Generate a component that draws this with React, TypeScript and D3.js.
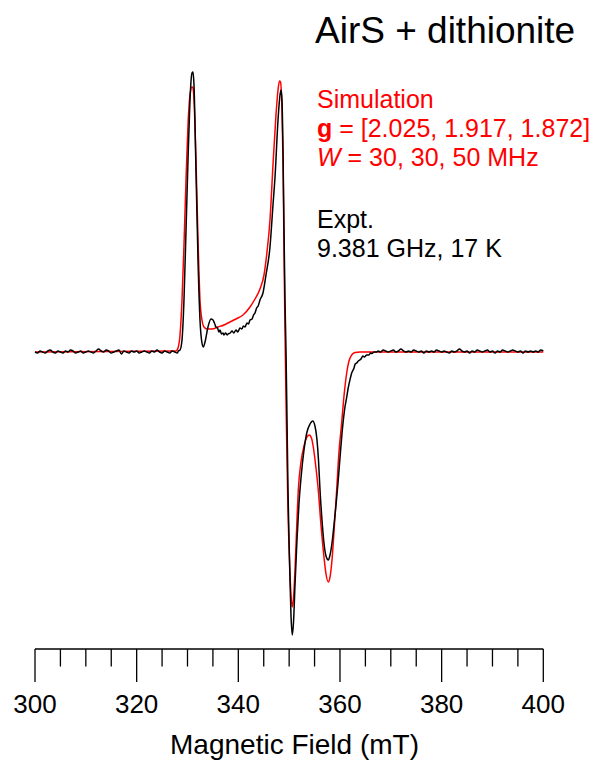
import React from "react";
import * as d3 from "d3";

// Magnetic field (mT) and EPR signal (arbitrary units)
const exptField: number[] = [
  300, 300.5, 301, 301.5, 302, 302.5, 303, 303.5, 304, 304.5, 305, 305.5, 306, 306.5, 307, 307.5,
  308, 308.5, 309, 309.5, 310, 310.5, 311, 311.5, 312, 312.5, 313, 313.5, 314, 314.5, 315, 315.5,
  316, 316.5, 317, 317.5, 318, 318.5, 319, 319.5, 320, 320.5, 321, 321.5, 322, 322.5, 323, 323.5,
  324, 324.5, 325, 325.5, 326, 326.5, 327, 327.5, 328, 328.2,
  328.53, 328.92, 329.31, 329.71, 330.1, 330.49, 330.89, 331.08, 331.28, 331.67, 332.07, 332.46,
  332.85, 333.11, 333.45, 334.03, 334.62, 335.02, 335.3, 335.61, 335.9, 336.2, 336.4, 336.7, 337.0,
  337.18, 337.5, 337.8, 337.97, 338.4, 338.76, 339.1, 339.54, 339.9, 340.33, 340.7, 341.0, 341.31,
  341.7, 342.0, 342.3, 342.7, 343.0, 343.28, 343.6, 343.9, 344.26, 344.85, 345.44, 346.23, 346.82,
  347.22, 347.81, 348.2, 348.4, 348.59, 348.79, 348.99, 349.18, 349.38, 349.58, 349.77, 350.07,
  350.36, 350.62, 350.86, 351.15, 351.54, 351.94, 352.33, 352.92, 353.51, 354.1, 354.63, 355.08,
  355.48, 355.77, 356.07, 356.46, 356.85, 357.25, 357.7, 358.04, 358.43, 358.82, 359.22, 359.61,
  360.0, 360.39, 360.98, 361.3, 361.58, 362.0, 362.3, 362.76, 363.0, 363.29, 363.6, 364.13, 364.5,
  364.8, 365.26, 365.7, 366.0, 366.3, 366.7, 367.22,
  367.5, 368, 368.5, 369, 369.5, 370, 370.5, 371, 371.5, 372, 372.5, 373, 373.5, 374, 374.5, 375,
  375.5, 376, 376.5, 377, 377.5, 378, 378.5, 379, 379.5, 380, 380.5, 381, 381.5, 382, 382.5, 383,
  383.5, 384, 384.5, 385, 385.5, 386, 386.5, 387, 387.5, 388, 388.5, 389, 389.5, 390, 390.5, 391,
  391.5, 392, 392.5, 393, 393.5, 394, 394.5, 395, 395.5, 396, 396.5, 397, 397.5, 398, 398.5, 399,
  399.5, 400,
];
const exptSignal: number[] = [
  0, -1, 1, 0, -1, 1, 2, 0, -1, 1, 0, -1, 1, 0, 2, 1,
  -1, 0, 1, -1, 0, 1, 0, -1, 1, 3, 1, 0, 2, 1, -1, 0,
  1, 2, -2, 1, 0, -1, 1, 0, 1, -1, 0, 1, 0, -1, 1, 0,
  2, 0, -1, 1, 0, -1, 1, 0, -1, 1,
  2, 12, 52, 122, 192, 252, 279, 280, 267, 182, 92, 32,
  9, 5, 10, 25, 33, 32, 29, 25, 24, 20, 22, 18, 19,
  17, 19, 17, 18, 19, 21, 19, 22, 20, 24, 23, 26, 25,
  29, 28, 32, 33, 37, 39, 44, 46, 52, 59, 77, 105, 147,
  175, 232, 257, 262, 252, 202, 122, 52, 2, -68, -138, -208,
  -263, -283, -270, -233, -188, -151, -126, -98, -80, -72, -69, -74,
  -88, -108, -138, -168, -191, -204, -208, -203, -191, -173, -153, -131,
  -106, -82, -55, -46, -37, -27, -21, -16, -12, -11, -9, -7, -4,
  -5, -3, -3, -1, -1.5, 0, 0,
  1, 0, 2, 1, 0, 1, 2, 0, 1, 3, 1, 0, 1, 0, 2, 1,
  0, 1, -1, 1, 0, 1, 0, 2, 1, 0, 1, 0, -1, 1, 0, 1,
  3, 1, 0, 1, -1, 1, 0, 2, 1, 0, 1, 2, 0, 1, -1, 1,
  0, 2, 1, 0, 1, 2, 1, 0, 1, -1, 1, 0, 1, 0, 1, 0,
  2, 1,
];

const simField: number[] = [
  300, 327.74, 328.13, 328.53, 328.92, 329.31, 329.71, 330.1, 330.49, 330.89, 331.08, 331.28,
  331.67, 332.07, 332.46, 332.85, 333.25, 333.84, 334.82, 336.0, 337.18, 338.36, 339.54, 340.92,
  342.3, 343.28, 344.26, 345.05, 345.64, 346.23, 346.82, 347.41, 347.81, 348.1, 348.3, 348.59,
  348.79, 348.99, 349.18, 349.38, 349.58, 349.77, 350.07, 350.36, 350.62, 350.86, 351.15, 351.54,
  351.8, 352.33, 352.92, 353.51, 353.96, 354.39, 354.75, 355.28, 355.73, 356.26, 356.85, 357.25,
  357.7, 358.04, 358.43, 358.82, 359.35, 359.8, 360.33, 360.79, 361.32, 361.77, 362.3, 362.95,
  363.94, 400,
];
const simSignal: number[] = [
  0, 1, 4, 17, 52, 107, 172, 227, 257, 265, 264, 252,
  192, 112, 52, 32, 25, 23, 23, 25, 27, 30, 33, 37,
  45, 53, 63, 77, 100, 132, 187, 237, 262, 271, 270, 242,
  192, 102, 22, -48, -108, -158, -208, -243, -255, -246, -218, -168,
  -138, -110, -94, -85, -83, -86, -95, -116, -138, -173, -205, -222,
  -230, -225, -208, -180, -138, -100, -71, -44, -21, -9, -3, -0.5,
  0, 0,
];

const majorTicks: number[] = [300, 320, 340, 360, 380, 400];
const minorTicks: number[] = [305, 310, 315, 325, 330, 335, 345, 350, 355, 365, 370, 375, 385, 390, 395];

const FONT = "'Liberation Sans', Arial, Helvetica, sans-serif";
const RED = "#ff0000";

export default function App() {
  const W = 603;
  const H = 762;
  const x = d3.scaleLinear().domain([300, 400]).range([35, 543.3]);
  const y = d3.scaleLinear().domain([-300, 300]).range([652, 52]);
  const axisY = 649;

  const line = d3
    .line<[number, number]>()
    .x((d) => x(d[0]))
    .y((d) => y(d[1]))
    .curve(d3.curveMonotoneX);

  const expt: [number, number][] = exptField.map((b, i) => [b, exptSignal[i]]);
  const sim: [number, number][] = simField.map((b, i) => [b, simSignal[i]]);

  return (
    <svg
      width={W}
      height={H}
      style={{ position: "fixed", left: 0, top: 0, background: "#fff" }}
      fontFamily={FONT}
    >
      <rect x={0} y={0} width={W} height={H} fill="#fff" />
      <path d={line(sim) || ""} fill="none" stroke={RED} strokeWidth={1.5} strokeLinejoin="round" />
      <path d={line(expt) || ""} fill="none" stroke="#000" strokeWidth={1.5} strokeLinejoin="round" />

      {/* axis */}
      <line x1={x(300)} x2={x(400)} y1={axisY} y2={axisY} stroke="#000" strokeWidth={1.3} />
      {majorTicks.map((t) => (
        <g key={"M" + t}>
          <line x1={x(t)} x2={x(t)} y1={axisY} y2={682} stroke="#000" strokeWidth={1.3} />
          <text x={x(t)} y={713} fontSize={26} textAnchor="middle" fill="#000">
            {t}
          </text>
        </g>
      ))}
      {minorTicks.map((t) => (
        <line key={"m" + t} x1={x(t)} x2={x(t)} y1={axisY} y2={666.5} stroke="#000" strokeWidth={1.3} />
      ))}
      <text x={294.5} y={754} fontSize={28} textAnchor="middle" fill="#000">
        Magnetic Field (mT)
      </text>

      {/* title and annotations */}
      <text x={315} y={43} fontSize={37} fill="#000">
        AirS + dithionite
      </text>
      <g fontSize={25} fill={RED}>
        <text x={317} y={108}>Simulation</text>
        <text x={317} y={137}>
          <tspan fontWeight="bold">g</tspan> = [2.025, 1.917, 1.872]
        </text>
        <text x={317} y={166}>
          <tspan fontStyle="italic">W</tspan> = 30, 30, 50 MHz
        </text>
      </g>
      <g fontSize={25} fill="#000">
        <text x={317} y={228}>Expt.</text>
        <text x={317} y={257}>9.381 GHz, 17 K</text>
      </g>
    </svg>
  );
}
